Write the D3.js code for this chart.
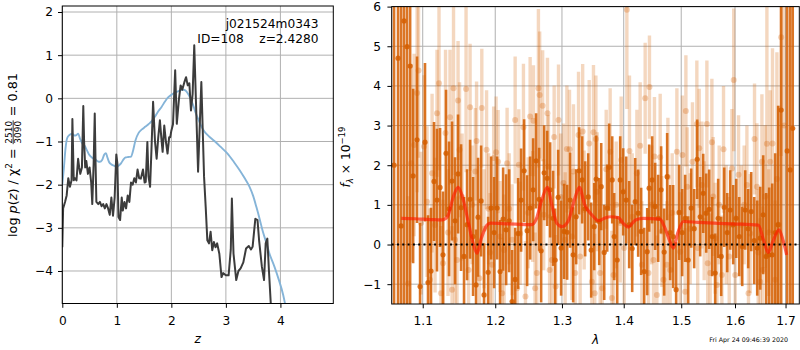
<!DOCTYPE html>
<html><head><meta charset="utf-8">
<script src="https://cdn.jsdelivr.net/npm/d3@7"></script>
<style>
body{margin:0;background:#fff}
svg{display:block;background:#fff}
</style>
</head><body>
<svg id="c" width="800" height="350"></svg>
<script>
// ---------- left panel: redshift PDF ----------
const pzZ = [0,0.015,0.05,0.08,0.11,0.14,0.17,0.185,0.21,0.23,0.26,0.29,0.31,0.33,0.36,0.385,0.40,0.42,0.44,0.47,
0.50,0.53,0.55,0.575,0.595,0.61,0.625,0.66,0.69,0.72,0.75,0.78,0.81,0.84,0.87,0.90,0.93,0.96,0.99,1.01,
1.03,1.06,1.09,1.11,1.14,1.17,1.20,1.23,1.26,1.29,1.32,1.35,1.38,1.41,1.44,1.48,1.51,1.53,1.56,1.58,
1.61,1.635,1.665,1.70,1.73,1.76,1.79,1.815,1.84,1.87,1.90,1.93,1.96,1.98,2.00,2.03,2.07,2.10,2.14,2.17,
2.20,2.24,2.27,2.30,2.33,2.36,2.39,2.42,2.49,2.55,2.60,2.63,2.66,2.69,2.72,2.75,2.78,2.81,2.84,2.88,
2.92,2.95,3.00,3.05,3.09,3.11,3.14,3.19,3.23,3.27,3.32,3.37,3.42,3.46,3.49,3.54,3.58,3.61,3.66,3.70,
3.73,3.76,3.79,3.83];
const pzLog = [-3.45,-2.55,-2.4,-2.25,-1.85,-2.05,-1.9,-0.48,-1.9,-1.85,-1.9,-1.4,-1.6,-1.75,-1.6,-0.18,-1.0,-1.6,-1.45,-1.75,
-1.6,-1.95,-2.45,-1.5,-0.35,-1.5,-2.4,-2.45,-2.4,-2.5,-2.45,-2.55,-2.45,-2.55,-2.7,-2.3,-2.72,-2.3,-1.3,-1.5,
-2.75,-2.82,-2.3,-2.6,-2.4,-2.55,-2.25,-2.4,-1.95,-2.0,-1.85,-1.95,-1.65,-1.85,-1.86,-1.65,-1.95,-1.94,-1.01,-1.8,
-2.05,-1.2,-0.08,-1.0,-1.4,-0.9,-0.51,-0.9,-1.24,-0.63,-1.0,-1.28,-0.9,-0.9,-0.75,-0.6,0.65,-0.59,-0.01,0.3,
0.2,0.38,0.49,0.3,0.35,-0.28,0.1,1.23,-1.7,0.38,-1.82,-2.52,-3.29,-3.36,-3.09,-3.52,-3.33,-3.45,-3.36,-3.6,
-4.14,-4.05,-4.1,-4.1,-3.5,-2.32,-3.6,-4.21,-4.0,-3.94,-3.8,-3.48,-3.42,-3.5,-3.44,-2.79,-2.82,-3.3,-3.9,-4.21,
-3.36,-3.25,-4.0,-4.9];
const chiZ = [0,0.03,0.06,0.09,0.13,0.18,0.22,0.26,0.29,0.33,0.37,0.41,0.45,0.49,0.55,0.61,0.65,0.69,0.73,0.77,
0.80,0.83,0.86,0.90,0.95,1.00,1.04,1.08,1.12,1.16,1.21,1.26,1.30,1.34,1.40,1.46,1.52,1.58,1.64,1.70,
1.76,1.82,1.88,1.94,2.00,2.06,2.12,2.18,2.22,2.26,2.30,2.35,2.40,2.45,2.50,2.55,2.60,2.68,2.79,2.90,
3.03,3.15,3.25,3.34,3.43,3.50,3.56,3.62,3.67,3.73,3.80,3.89,3.97,4.05,4.10];
const chiLog = [-2.0,-1.6,-1.15,-0.92,-0.85,-0.82,-0.86,-0.85,-0.82,-0.95,-1.05,-1.1,-1.2,-1.3,-1.38,-1.42,-1.46,-1.47,-1.43,-1.3,
-1.27,-1.38,-1.48,-1.53,-1.56,-1.59,-1.55,-1.5,-1.42,-1.37,-1.36,-1.35,-1.2,-0.98,-0.8,-0.72,-0.66,-0.6,-0.53,-0.42,
-0.3,-0.2,-0.08,0.02,0.08,0.13,0.16,0.19,0.2,0.18,0.12,0.0,-0.16,-0.35,-0.5,-0.65,-0.76,-0.87,-0.99,-1.12,
-1.28,-1.48,-1.66,-1.84,-2.04,-2.26,-2.52,-2.8,-3.05,-3.3,-3.6,-3.9,-4.2,-4.55,-4.85];
const zTicks = [0,1,2,3,4];
const pzTicks = [-4,-3,-2,-1,0,1,2];
const fitName = "j021524m0343";
const fitInfo = "ID=108    z=2.4280";

// ---------- right panel: spectrum ----------
const darkLam = [1.0628,1.0679,1.0718,1.0756,1.0795,1.0835,1.0874,1.0925,1.0965,1.1030,
1.1070,1.1110,1.1150,1.1190,1.1231,1.1271,1.1312,1.1353,1.1394,1.1435,
1.1476,1.1518,1.1559,1.1601,1.1643,1.1685,1.1727,1.1755,1.1798,1.1840,
1.1898,1.1941,1.1984,1.2027,1.2070,1.2114,1.2158,1.2202,1.2245,1.2290,
1.2334,1.2378,1.2423,1.2468,1.2513,1.2558,1.2603,1.2649,1.2679,1.2725,
1.2771,1.2817,1.2863,1.2894,1.2941,1.2987,1.3034,1.3081,1.3128,1.3176,
1.3224,1.3271,1.3319,1.3367,1.3416,1.3464,1.3513,1.3545,1.3594,1.3627,
1.3676,1.3725,1.3758,1.3808,1.3841,1.3891,1.3941,1.3991,1.4042,1.4092,
1.4143,1.4194,1.4245,1.4296,1.4348,1.4400,1.4434,1.4486,1.4538,1.4591,
1.4643,1.4696,1.4749,1.4802,1.4856,1.4909,1.4963,1.5017,1.5071,1.5126,
1.5180,1.5235,1.5290,1.5345,1.5401,1.5456,1.5512,1.5568,1.5624,1.5680,
1.5737,1.5794,1.5851,1.5908,1.5965,1.6023,1.6081,1.6139,1.6197,1.6255,
1.6314,1.6373,1.6432,1.6491,1.6550,1.6610,1.6670,1.6730,1.6790,1.6850,
1.6911,1.7033,1.7095,1.7147];
const darkFlux = [2.0,4.7,0.47,5.64,4.99,4.5,1.73,2.64,-1.06,2.58,
-0.96,-0.67,1.59,1.12,1.44,-0.26,2.3,0.9,1.6,0.6,
1.78,0.93,-0.3,0.5,1.14,0.2,-1.02,0.69,1.1,-1.27,
-0.7,0.92,0.3,0.92,-0.68,0.64,0.37,0.6,-1.44,-0.88,
0.28,1.12,1.86,0.35,0.92,1.38,2.11,1.14,-0.16,1.81,
1.67,1.38,0.66,-0.39,1.19,-0.09,0.33,0.31,1.12,-0.26,
0.7,1.86,1.63,0.9,1.2,-0.14,0.45,1.65,0.58,1.46,
-0.2,0.92,1.95,1.63,0.2,-0.39,1.63,1.33,1.12,0.5,
-0.1,1.08,0.79,0.33,-0.68,-0.18,1.42,1.63,0.96,0.66,
1.38,-0.19,1.71,0.3,0.2,-1.14,0.81,0.3,0.66,-0.39,
0.92,0.4,2.15,0.7,1.29,0.79,0.89,0.2,-0.72,0.66,
-0.3,0.94,0.3,0.87,0.5,0.66,0.2,-0.05,0.87,0.4,
0.83,0.1,-0.09,0.16,0.75,-0.3,-0.26,-0.26,0.3,0.5,
3.39,2.36,1.88,2.93];
const darkErr = [9,8,7,8,7,6.5,2.2,2.1,1.6,2.0,
1.7,1.6,1.5,1.8,1.5,1.6,1.6,1.7,1.5,1.6,
1.5,1.6,1.5,1.4,1.5,1.5,1.4,1.5,1.4,1.3,
1.4,1.3,1.4,1.3,1.3,1.3,1.4,1.3,1.3,1.3,
1.4,1.3,1.3,1.4,1.3,1.3,1.2,1.3,1.3,1.2,
1.2,1.2,1.2,1.3,1.2,1.2,1.2,1.2,1.2,1.2,
1.2,1.1,1.1,1.2,1.1,1.2,1.1,1.1,1.1,1.1,
1.2,1.1,1.1,1.1,1.1,1.1,1.1,1.1,1.1,1.1,
1.1,1.1,1.1,1.1,1.1,1.1,1.1,1.1,1.1,1.1,
1.1,1.1,1.1,1.2,1.3,1.2,1.2,1.1,1.1,1.1,
1.0,1.0,1.0,1.0,1.0,1.0,1.0,1.0,1.0,1.0,
1.0,1.0,1.0,1.0,1.0,1.0,1.0,1.0,1.0,1.0,
1.0,1.1,1.2,1.3,1.5,1.6,1.7,1.8,2.0,3.0,
8,8,8,8];

const lightLam = [1.0809,1.0848,1.0887,1.0926,1.0945,1.0978,1.1017,1.1057,1.1097,1.1124,
1.1164,1.1190,1.1217,1.1244,1.1271,1.1305,1.1339,1.1366,1.1394,1.1414,
1.1435,1.1462,1.1476,1.1497,1.1532,1.1587,1.1622,1.1643,1.1671,1.1717,
1.1734,1.1774,1.1808,1.1840,1.1876,1.1905,1.1926,1.1955,1.1977,1.2012,
1.2041,1.2070,1.2099,1.2128,1.2172,1.2202,1.2245,1.2290,1.2319,1.2344,
1.2364,1.2413,1.2443,1.2483,1.2513,1.2551,1.2563,1.2588,1.2614,1.2638,
1.2657,1.2702,1.2718,1.2776,1.2791,1.2809,1.2843,1.2879,1.2902,1.2946,
1.2980,1.3024,1.3050,1.3077,1.3118,1.3156,1.3181,1.3208,1.3261,1.3287,
1.3327,1.3351,1.3432,1.3475,1.3501,1.3521,1.3540,1.3561,1.3610,1.3643,
1.3709,1.3774,1.3802,1.3829,1.3874,1.3941,1.3957,1.4008,1.4053,1.4097,
1.4143,1.4223,1.4279,1.4308,1.4365,1.4422,1.4439,1.4477,1.4509,1.4526,
1.4568,1.4626,1.4656,1.4684,1.4744,1.4762,1.4802,1.4838,1.4922,1.4981,
1.5022,1.5071,1.5084,1.5108,1.5162,1.5204,1.5284,1.5299,1.5327,1.5377,
1.5419,1.5469,1.5484,1.5530,1.5562,1.5587,1.5624,1.5656,1.5699,1.5750,
1.5781,1.5832,1.5889,1.5941,1.5975,1.6004,1.6068,1.6120,1.6177,1.6230,
1.6261,1.6294,1.6379,1.6426,1.6452,1.6491,1.6525,1.6541,1.6590,1.6624,
1.6660,1.6690,1.6736,1.6790,1.6825,1.6861,1.6911,1.6972];
const lightFlux = [-0.98,2.05,2.51,3.82,4.39,0.54,2.47,1.08,-0.89,1.8,
0.49,3.31,4.07,-1.23,-0.47,2.81,0.3,3.21,-1.14,3.94,
0.12,-0.39,3.63,2.39,1.2,3.92,-0.64,3.46,1.0,1.84,
2.61,-0.85,3.44,0.4,2.39,0.9,-0.2,-0.51,2.18,2.33,
2.09,0.2,-1.23,-0.14,2.05,0.9,0.12,3.14,-1.1,2.01,
0.28,2.96,-1.31,0.8,3.23,0.96,3.12,-1.1,-0.72,3.94,
3.77,3.5,0.75,3.31,1.96,-0.64,-0.39,2.71,-1.06,3.14,
1.2,1.55,0.12,2.41,2.4,0.2,1.84,-0.72,2.76,-0.3,
2.85,0.87,2.55,-0.94,2.83,-1.23,2.66,1.33,-0.72,-1.1,
1.9,2.34,-1.35,-0.77,1.0,0.54,2.13,-0.09,5.92,2.36,
0.7,1.8,2.49,-0.51,3.69,-0.72,3.97,1.0,-0.39,2.22,
-1.27,2.2,0.33,-0.89,-0.51,1.7,-0.64,0.8,2.34,-0.18,
2.26,-1.19,3.37,1.46,0.4,2.09,3.04,-0.09,2.43,1.5,
0.6,3.04,-0.47,-0.72,2.58,1.21,0.16,-1.02,1.0,-0.77,
2.4,0.5,-0.3,1.92,4.15,-0.77,1.76,0.5,1.0,1.5,
-1.23,0.28,2.66,1.46,-0.2,-0.94,2.09,-0.64,1.21,2.54,
0.3,2.09,2.55,-0.89,1.65,0.5,5.23,3.0];
const lightErr = [2.2,2.5,2.3,2.5,2.2,1.8,1.8,1.9,1.8,2.0,
1.7,1.6,2.2,1.7,1.6,2.1,1.6,1.7,1.6,2.2,
1.6,1.6,1.5,1.7,1.6,2.1,1.6,1.6,1.5,1.6,
1.5,1.5,1.5,1.5,1.5,1.4,1.5,1.4,1.3,1.4,
1.3,1.4,1.4,1.4,1.4,1.4,1.4,1.6,1.4,1.4,
1.3,1.6,1.4,1.4,1.5,1.4,1.4,1.4,1.4,2.0,
1.6,1.4,1.4,1.4,1.3,1.4,1.3,1.3,1.3,1.4,
1.6,1.5,1.7,1.6,1.5,1.6,1.7,1.5,1.6,1.6,
1.7,1.5,1.6,1.6,1.7,1.5,1.6,1.5,1.6,1.7,
1.5,1.6,1.7,1.5,1.6,1.5,1.6,1.5,2.5,1.9,
1.6,1.6,1.6,1.6,1.4,1.6,1.3,1.5,1.5,1.5,
1.5,1.6,1.4,1.5,1.6,1.5,1.4,1.5,1.6,1.5,
1.5,1.6,1.4,1.5,1.4,1.5,1.6,1.5,1.5,1.6,
1.5,1.6,1.4,1.5,1.6,1.5,1.4,1.6,1.5,1.5,
1.6,1.5,1.5,1.5,1.8,1.5,1.5,1.5,1.5,1.5,
1.5,1.5,1.4,1.6,1.6,1.6,1.7,1.6,1.8,3.5,
1.6,1.8,2.4,2.0,3.2,3,3,3];

const modelLam = [1.0721,1.0900,1.1100,1.1258,1.1330,1.1420,1.1476,1.1530,1.1620,1.1690,
1.1740,1.1800,1.1882,1.1932,1.2200,1.2540,1.2600,1.2688,1.2774,1.2850,
1.2919,1.3000,1.3100,1.3200,1.3274,1.3360,1.3473,1.3583,1.3680,1.3772,
1.3909,1.4000,1.4078,1.4200,1.4333,1.4623,1.4700,1.4787,1.4859,1.4940,
1.5038,1.5300,1.5935,1.6454,1.6560,1.6650,1.6750,1.6867,1.6950,1.7023];
const modelFlux = [0.66,0.65,0.63,0.62,0.70,1.25,1.44,1.25,0.55,0.0,
-0.22,0.15,0.49,0.54,0.52,0.50,0.62,1.12,1.44,0.95,
0.54,0.45,0.6,1.15,1.44,1.0,0.75,0.6,0.66,0.7,
0.68,0.52,0.44,0.62,0.66,0.64,0.45,0.12,-0.09,0.3,
0.58,0.56,0.52,0.49,0.1,-0.2,0.1,0.37,0.1,-0.26];
const lamTicks = [1.1,1.2,1.3,1.4,1.5,1.6,1.7];
const fluxTicks = [-1,0,1,2,3,4,5,6];
const stamp = "Fri Apr 24 09:46:39 2020";

// ---------- drawing ----------
const FONT = '"DejaVu Sans", sans-serif';
const FS = 12.2;
const ORANGE = "#d55e00";
const svg = d3.select("#c");

const P1 = {l:62.3, r:333.3, t:6, b:303.5};
const P2 = {l:391.7, r:799.3, t:6.6, b:304};

const x1 = d3.scaleLinear().domain([0,4.97]).range([P1.l,P1.r]);
const y1 = d3.scaleLinear().domain([-4.753,2.139]).range([P1.b,P1.t]);
const x2 = d3.scaleLog().domain([1.0598,1.7283]).range([P2.l,P2.r]);
const y2 = d3.scaleLinear().domain([-1.5,6]).range([P2.b,P2.t]);

const defs = svg.append("defs");
[["cp1",P1],["cp2",P2]].forEach(([id,P])=>{
  defs.append("clipPath").attr("id",id).append("rect")
    .attr("x",P.l).attr("y",P.t).attr("width",P.r-P.l).attr("height",P.b-P.t);
});

function styleAxis(g){
  g.select(".domain").remove();
  g.attr("font-family",null).attr("font-size",null);
  g.selectAll("text").attr("font-family",FONT).attr("font-size",FS).attr("fill","#000");
  g.selectAll("line").attr("stroke","#000").attr("stroke-width",1);
}

// ---- panel 1 ----
const g1 = svg.append("g");
const grid1 = g1.append("g").attr("stroke","#b0b0b0").attr("stroke-width",1);
grid1.selectAll("line.v").data(zTicks).join("line").attr("class","v")
  .attr("x1",d=>x1(d)).attr("x2",d=>x1(d)).attr("y1",P1.t).attr("y2",P1.b);
grid1.selectAll("line.h").data(pzTicks).join("line").attr("class","h")
  .attr("y1",d=>y1(d)).attr("y2",d=>y1(d)).attr("x1",P1.l).attr("x2",P1.r);

const plot1 = g1.append("g").attr("clip-path","url(#cp1)");
plot1.append("path").datum(d3.zip(chiZ,chiLog))
  .attr("d",d3.line().x(d=>x1(d[0])).y(d=>y1(d[1])).curve(d3.curveMonotoneX))
  .attr("fill","none").attr("stroke","#85b4d8").attr("stroke-width",1.9);
plot1.append("path").datum(d3.zip(pzZ,pzLog))
  .attr("d",d3.line().x(d=>x1(d[0])).y(d=>y1(d[1])))
  .attr("fill","none").attr("stroke","#3c3c3c").attr("stroke-width",2).attr("stroke-linejoin","round");

g1.append("g").attr("transform",`translate(0,${P1.b})`)
  .call(d3.axisBottom(x1).tickValues(zTicks).tickFormat(d3.format("d")).tickSize(4.3).tickPadding(8.3))
  .call(styleAxis);
g1.append("g").attr("transform",`translate(${P1.l},0)`)
  .call(d3.axisLeft(y1).tickValues(pzTicks).tickFormat(d3.format("d")).tickSize(4.3).tickPadding(5))
  .call(styleAxis);
g1.append("rect").attr("x",P1.l).attr("y",P1.t).attr("width",P1.r-P1.l).attr("height",P1.b-P1.t)
  .attr("fill","none").attr("stroke","#000").attr("stroke-width",1);

g1.append("text").attr("x",318.5).attr("y",27.5).attr("text-anchor","end")
  .attr("font-family",FONT).attr("font-size",FS).text(fitName);
g1.append("text").attr("x",318.5).attr("y",42.5).attr("text-anchor","end")
  .attr("font-family",FONT).attr("font-size",FS).style("white-space","pre").text(fitInfo);

g1.append("text").attr("x",(P1.l+P1.r)/2).attr("y",343).attr("text-anchor","middle")
  .attr("font-family",FONT).attr("font-size",FS).attr("font-style","italic").text("z");

// y label with fraction
(function(){
  const LFS = 12.8;
  const g = g1.append("g").attr("font-family",FONT).attr("font-size",LFS);
  const tA = g.append("text").style("white-space","pre");
  tA.append("tspan").text("log ");
  tA.append("tspan").attr("font-style","italic").text("p");
  tA.append("tspan").text("(");
  tA.append("tspan").attr("font-style","italic").text("z");
  tA.append("tspan").text(") / χ");
  tA.append("tspan").attr("font-size",LFS*0.7).attr("dy",-LFS*0.42).text("2");
  tA.append("tspan").attr("dy",LFS*0.42).text(" = ");
  const lenA = tA.node().getComputedTextLength();
  const fs2 = LFS*0.7;
  const num = g.append("text").attr("font-size",fs2).attr("text-anchor","middle").text("2510");
  const den = g.append("text").attr("font-size",fs2).attr("text-anchor","middle").text("3090");
  const fw = Math.max(num.node().getComputedTextLength(), den.node().getComputedTextLength()) + 1;
  const tC = g.append("text").style("white-space","pre").text(" = 0.81");
  const lenC = tC.node().getComputedTextLength();
  const total = lenA + fw + lenC;
  const x0 = -total/2;
  const axisY = -LFS*0.3;
  tA.attr("x",x0).attr("y",0);
  num.attr("x",x0+lenA+fw/2).attr("y",axisY-1.6);
  den.attr("x",x0+lenA+fw/2).attr("y",axisY+1.6+fs2*0.73);
  g.append("line").attr("x1",x0+lenA).attr("x2",x0+lenA+fw).attr("y1",axisY).attr("y2",axisY)
    .attr("stroke","#000").attr("stroke-width",0.8);
  tC.attr("x",x0+lenA+fw).attr("y",0);
  g.attr("transform","translate(17,155) rotate(-90)");
})();

// ---- panel 2 ----
const g2 = svg.append("g");
const grid2 = g2.append("g").attr("stroke","#b0b0b0").attr("stroke-width",1);
grid2.selectAll("line.v").data(lamTicks).join("line").attr("class","v")
  .attr("x1",d=>x2(d)).attr("x2",d=>x2(d)).attr("y1",P2.t).attr("y2",P2.b);
grid2.selectAll("line.h").data(fluxTicks).join("line").attr("class","h")
  .attr("y1",d=>y2(d)).attr("y2",d=>y2(d)).attr("x1",P2.l).attr("x2",P2.r);

const plot2 = g2.append("g").attr("clip-path","url(#cp2)");
const dark = d3.zip(darkLam,darkFlux,darkErr);
const light = d3.zip(lightLam,lightFlux,lightErr);

const gd = plot2.append("g");
gd.selectAll("line").data(dark).join("line")
  .attr("x1",d=>x2(d[0])).attr("x2",d=>x2(d[0]))
  .attr("y1",d=>y2(d[1]-d[2])).attr("y2",d=>y2(d[1]+d[2]))
  .attr("stroke",ORANGE).attr("stroke-opacity",0.85).attr("stroke-width",2.6);
gd.selectAll("circle").data(dark).join("circle")
  .attr("cx",d=>x2(d[0])).attr("cy",d=>y2(d[1])).attr("r",2.6)
  .attr("fill",ORANGE).attr("fill-opacity",0.85);

const gl = plot2.append("g");
gl.selectAll("line").data(light).join("line")
  .attr("x1",d=>x2(d[0])).attr("x2",d=>x2(d[0]))
  .attr("y1",d=>y2(d[1]-d[2])).attr("y2",d=>y2(d[1]+d[2]))
  .attr("stroke",ORANGE).attr("stroke-opacity",0.25).attr("stroke-width",3.4);
gl.selectAll("circle").data(light).join("circle")
  .attr("cx",d=>x2(d[0])).attr("cy",d=>y2(d[1])).attr("r",3)
  .attr("fill",ORANGE).attr("fill-opacity",0.28);

plot2.append("path").datum(d3.zip(modelLam,modelFlux))
  .attr("d",d3.line().x(d=>x2(d[0])).y(d=>y2(d[1])).curve(d3.curveMonotoneX))
  .attr("fill","none").attr("stroke","#ff1a00").attr("stroke-opacity",0.65)
  .attr("stroke-width",3.2).attr("stroke-linejoin","round");

plot2.append("line").attr("x1",P2.l).attr("x2",P2.r).attr("y1",y2(0)).attr("y2",y2(0))
  .attr("stroke","#000").attr("stroke-width",2).attr("stroke-dasharray","2,3.3");

g2.append("g").attr("transform",`translate(0,${P2.b})`)
  .call(d3.axisBottom(x2).tickValues(lamTicks).tickFormat(d3.format(".1f")).tickSize(4.3).tickPadding(8.3))
  .call(styleAxis);
g2.append("g").attr("transform",`translate(${P2.l},0)`)
  .call(d3.axisLeft(y2).tickValues(fluxTicks).tickFormat(d3.format("d")).tickSize(4.3).tickPadding(6.3))
  .call(styleAxis);
g2.append("rect").attr("x",P2.l).attr("y",P2.t).attr("width",P2.r-P2.l).attr("height",P2.b-P2.t)
  .attr("fill","none").attr("stroke","#000").attr("stroke-width",1);

g2.append("text").attr("x",(P2.l+P2.r)/2).attr("y",344).attr("text-anchor","middle")
  .attr("font-family",FONT).attr("font-size",FS).attr("font-style","italic").text("λ");

(function(){
  const g = g2.append("g").attr("font-family",FONT).attr("font-size",FS);
  const t = g.append("text").style("white-space","pre");
  t.append("tspan").attr("font-style","italic").text("f");
  t.append("tspan").attr("font-size",FS*0.7).attr("font-style","italic").attr("dy",FS*0.22).text("λ");
  t.append("tspan").attr("dy",-FS*0.22).text(" × 10");
  t.append("tspan").attr("font-size",FS*0.7).attr("dy",-FS*0.42).text("−19");
  const len = t.node().getComputedTextLength();
  t.attr("x",-len/2).attr("y",0);
  g.attr("transform","translate(350,157) rotate(-90)");
})();

svg.append("text").attr("x",788).attr("y",342).attr("text-anchor","end")
  .attr("font-family",FONT).attr("font-size",6.3).attr("fill","#000").text(stamp);
</script>
</body></html>
